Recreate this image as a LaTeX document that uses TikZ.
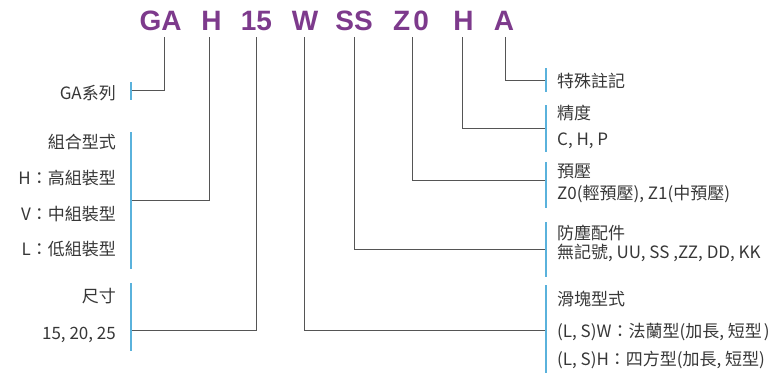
\documentclass[tikz,border=0pt]{standalone}
\usepackage{fontspec}
\setmainfont{Noto Sans CJK TC}
\newfontfamily\codefont{Liberation Sans}
\definecolor{codepurple}{RGB}{125,58,140}
\definecolor{barblue}{RGB}{90,178,220}
\definecolor{wiregray}{RGB}{85,85,85}
\definecolor{textgray}{RGB}{55,55,55}

\begin{document}
\begin{tikzpicture}[x=1pt,y=-1pt,
  code/.style={font=\codefont\bfseries\fontsize{28}{28}\selectfont,text=codepurple,inner sep=0pt,outer ysep=7pt,anchor=base},
  lbl/.style={font=\fontsize{17}{17}\selectfont,text=textgray,inner sep=0pt},
  left lbl/.style={lbl,anchor=base east},
  right lbl/.style={lbl,anchor=base west},
  bar/.style={draw=barblue,line width=2pt},
  wire/.style={draw=wiregray,line width=1pt}]
  \useasboundingbox (0,0) rectangle (777,375);
  % model code
  \path (160.5,30) node[code] (ga) {GA} (211.5,30) node[code] (h) {H}
  (256.5,30) node[code] (size) {15} (305,30) node[code] (w) {W}
  (354,30) node[code] (ss) {SS} (411,30) node[code] (z0) {Z\kern3pt0}
  (463.5,30) node[code] (p) {H} (504,30) node[code] (a) {A};
  % bars and where the wires meet them
  \draw[bar] (131,82) -- (131,100);
  \draw[bar] (131,132) -- (131,269);
  \draw[bar] (131,283) -- (131,351);
  \draw[bar] (546,68) -- (546,92);
  \draw[bar] (546,105) -- (546,152);
  \draw[bar] (546,162) -- (546,208);
  \draw[bar] (546,222) -- (546,277);
  \draw[bar] (546,285) -- (546,373);
  \coordinate (lser) at (132,90);
  \coordinate (lasm) at (132,200);
  \coordinate (lsize) at (132,330);
  \coordinate (rspec) at (545,80);
  \coordinate (racc) at (545,128);
  \coordinate (rpre) at (545,180);
  \coordinate (rseal) at (545,249);
  \coordinate (rblk) at (545,330);
  \draw[wire] ([xshift=3.5pt]ga.south) |- (lser);
  \draw[wire] ([xshift=-2.5pt]h.south) |- (lasm);
  \draw[wire] (size.south) |- (lsize);
  \draw[wire] ([xshift=-1pt]w.south) |- (rblk);
  \draw[wire] (ss.south) |- (rseal);
  \draw[wire] ([xshift=1.5pt]z0.south) |- (rpre);
  \draw[wire] ([xshift=-1.5pt]p.south) |- (racc);
  \draw[wire] ([xshift=1.5pt]a.south) |- (rspec);
  % left labels
  \path (116,99) node[left lbl] (ser) {GA系列}
  (116,148) node[left lbl] (asm) {組合型式}
  (116,184) node[left lbl] (asmh) {H：高組裝型}
  (116,220) node[left lbl] (asmv) {V：中組裝型}
  (116,255) node[left lbl] (asml) {L：低組裝型}
  (116,302) node[left lbl] (sz) {尺寸}
  (116,339) node[left lbl] (szv) {15, 20, 25};
  % right labels
  \path (557,87) node[right lbl] (spec) {特殊註記}
  (557,119) node[right lbl] (acc) {精度}
  (557,145) node[right lbl] (accv) {C, H, P}
  (557,177) node[right lbl] (pre) {預壓}
  (557,199.5) node[right lbl] (prev) {Z0(輕預壓), Z1(中預壓)}
  (557,239) node[right lbl] (seal) {防塵配件}
  (557,258.5) node[right lbl] (sealv) {無記號, UU, SS ,ZZ, DD, KK}
  (557,305) node[right lbl] (blk) {滑塊型式}
  (557,337) node[right lbl] (blkw) {(L, S)W：法蘭型(加長, 短型\kern2pt)}
  (557,365) node[right lbl] (blkh) {(L, S)H：四方型(加長, 短型)};
\end{tikzpicture}
\end{document}
